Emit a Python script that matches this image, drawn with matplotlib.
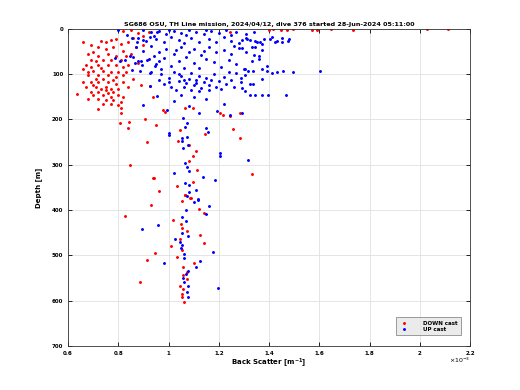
import numpy as np
import matplotlib
matplotlib.use('Agg')
import matplotlib.pyplot as plt
from matplotlib.ticker import FuncFormatter

# back scatter in units of 1e-3 m^-1, depth in m
down_pts = [
    (0.66, 30), (0.69, 35), (0.73, 26), (0.75, 28), (0.77, 25), (0.79, 22), (0.81, 33), (0.72, 40),
    (0.75, 44), (0.78, 40), (0.82, 48), (0.70, 52), (0.68, 55), (0.72, 60), (0.76, 55), (0.79, 60),
    (0.83, 60), (0.69, 68), (0.71, 72), (0.74, 68), (0.77, 68), (0.81, 68), (0.67, 80), (0.69, 84),
    (0.72, 80), (0.76, 80), (0.79, 80), (0.82, 84), (0.84, 80), (0.66, 88), (0.70, 92), (0.74, 92),
    (0.77, 96), (0.80, 96), (0.83, 96), (0.68, 102), (0.72, 102), (0.76, 102), (0.79, 106), (0.82, 102),
    (0.66, 117), (0.69, 117), (0.72, 117), (0.76, 117), (0.79, 121), (0.82, 117), (0.67, 128), (0.71, 128),
    (0.75, 128), (0.77, 132), (0.80, 132), (0.84, 128), (0.69, 139), (0.72, 139), (0.75, 136), (0.78, 139),
    (0.70, 146), (0.74, 146), (0.77, 150), (0.80, 146), (0.82, 150), (0.635, 143), (0.68, 154), (0.72, 154),
    (0.75, 157), (0.78, 157), (0.81, 161), (0.74, 165), (0.77, 165), (0.80, 168), (0.72, 178), (0.81, 175),
    (0.71, 110), (0.73, 86), (0.78, 112), (0.74, 110), (0.70, 124), (0.76, 142), (0.68, 95), (0.73, 133),
    (0.82, 5), (0.85, 3), (0.88, 10), (0.86, 20), (0.90, 15), (0.92, 8), (0.84, 30), (0.87, 40), (0.90, 35),
    (0.85, 55), (0.88, 75), (0.86, 110), (0.89, 125),
    (0.811, 185), (0.807, 208), (0.843, 205), (0.84, 218), (0.906, 199), (0.95, 212), (0.913, 250),
    (0.847, 300), (0.94, 330), (0.962, 357),
    (0.979, 180), (1.045, 224), (1.036, 247), (1.083, 256), (1.109, 269), (1.098, 280), (1.083, 291),
    (1.112, 311), (1.145, 232), (1.215, 190), (1.244, 193), (1.258, 221), (1.284, 241), (0.939, 330),
    (1.035, 348), (1.096, 339), (1.065, 366), (1.085, 374),
    (1.066, 367), (1.088, 374), (1.055, 381), (0.93, 389), (1.121, 397), (1.141, 406), (0.827, 413),
    (1.019, 422), (1.050, 431), (1.052, 439), (1.072, 447), (1.125, 456), (1.046, 464), (1.139, 472),
    (1.01, 479), (1.055, 488), (0.944, 494), (1.033, 503), (0.913, 510), (1.102, 517), (1.059, 526),
    (1.072, 536), (1.056, 543), (1.072, 552), (0.887, 559), (1.046, 567), (1.056, 575), (1.052, 585),
    (1.052, 593), (1.062, 602),
    (0.926, 127), (0.939, 151), (1.065, 174), (1.098, 174), (0.986, 183), (1.205, 186), (1.284, 186),
    (1.244, 6), (1.40, 2), (1.416, 1), (1.448, 3), (1.472, 2), (1.496, 1), (1.571, 2), (1.591, 3),
    (1.647, 1), (1.734, 2), (2.029, 1), (2.112, 1), (1.33, 320),
]

up_pts = [
    (0.90, 3), (0.93, 8), (0.96, 5), (0.99, 12), (1.02, 4), (1.05, 10), (1.08, 3), (1.11, 7), (1.14, 12),
    (1.17, 5), (1.20, 9), (1.23, 3), (1.27, 8), (1.31, 12), (1.34, 6), (0.94, 15), (1.00, 2), (1.07, 14),
    (1.15, 2), (1.25, 14),
    (0.88, 20), (0.91, 27), (0.95, 22), (0.98, 30), (1.01, 18), (1.04, 25), (1.06, 32), (1.09, 20),
    (1.12, 28), (1.16, 22), (1.19, 30), (1.22, 18), (1.25, 26), (1.28, 32), (1.31, 20), (1.35, 28),
    (1.38, 23), (1.41, 18), (1.45, 20), (1.48, 22), (1.43, 26),
    (0.87, 40), (0.90, 48), (0.93, 38), (0.96, 52), (0.99, 44), (1.02, 56), (1.05, 40), (1.08, 50),
    (1.10, 44), (1.13, 58), (1.16, 40), (1.19, 52), (1.22, 46), (1.25, 56), (1.28, 42), (1.31, 50),
    (1.34, 58), (1.26, 38), (1.14, 48), (1.03, 46),
    (0.86, 62), (0.89, 70), (0.92, 66), (0.95, 78), (0.98, 64), (1.01, 82), (1.04, 70), (1.07, 62),
    (1.10, 76), (1.12, 86), (1.15, 66), (1.18, 74), (1.21, 84), (1.24, 68), (1.27, 78), (1.30, 88),
    (1.33, 72), (1.36, 66), (1.39, 82), (0.97, 88), (1.06, 86),
    (0.93, 95), (0.97, 100), (1.00, 108), (1.02, 96), (1.04, 115), (1.05, 104), (1.07, 120), (1.08, 110),
    (1.09, 98), (1.10, 125), (1.11, 114), (1.12, 105), (1.13, 130), (1.14, 118), (1.15, 108), (1.16, 124),
    (1.17, 112), (1.18, 100), (1.19, 128), (1.20, 116), (1.22, 106), (1.23, 122), (1.25, 112), (1.27, 98),
    (1.29, 118), (0.98, 122), (1.01, 128), (1.03, 134), (1.06, 128), (1.09, 136), (1.12, 138),
    (1.16, 134), (1.21, 132), (1.26, 128), (1.00, 118), (1.06, 112), (1.11, 120), (1.04, 100),
    (0.96, 112), (1.24, 95),
    (1.05, 145), (1.10, 150), (1.02, 160), (1.15, 155), (1.08, 170), (1.12, 185), (1.22, 165),
    (0.992, 180), (1.059, 197), (1.072, 208), (1.065, 216), (1.0, 230), (1.003, 234), (1.052, 241),
    (1.055, 247), (1.072, 238), (1.149, 219), (1.158, 227), (1.079, 256), (1.059, 264), (1.205, 273),
    (1.205, 280), (1.065, 297), (1.072, 304), (1.083, 313), (1.023, 319), (1.136, 326), (1.185, 333),
    (1.065, 341), (1.083, 344), (1.109, 355), (1.083, 361), (1.118, 376), (1.315, 289), (1.291, 186),
    (1.244, 190), (1.191, 182),
    (1.075, 369), (1.116, 378), (1.103, 383), (1.159, 391), (1.070, 400), (1.149, 409), (1.055, 416),
    (1.070, 424), (0.956, 432), (0.896, 441), (1.055, 450), (1.079, 457), (1.025, 464), (1.046, 470),
    (1.055, 477), (1.050, 484), (1.178, 492), (1.062, 498), (1.062, 505), (1.125, 512), (0.982, 517),
    (1.108, 525), (1.079, 534), (1.070, 541), (1.059, 549), (1.062, 558), (1.076, 567), (1.196, 573),
    (1.072, 582), (1.076, 591),
    (1.291, 24), (1.311, 22), (1.325, 25), (1.344, 26), (1.364, 28), (1.37, 33), (1.291, 43), (1.331, 41),
    (1.344, 41), (1.371, 46), (1.358, 61), (1.404, 22), (1.424, 29), (1.45, 28), (1.474, 27),
    (1.305, 88), (1.318, 93), (1.335, 93), (1.371, 88), (1.391, 93), (1.41, 98), (1.433, 96),
    (1.457, 92), (1.494, 96), (1.603, 93), (1.305, 102), (1.288, 109), (1.371, 110), (1.324, 122),
    (1.335, 121), (1.291, 131), (1.305, 138), (1.322, 147), (1.344, 147), (1.371, 147), (1.397, 147),
    (1.468, 147),
    (0.80, 2), (0.834, 13), (0.853, 21), (0.873, 28), (0.90, 24), (0.926, 19), (0.953, 6), (0.787, 65),
    (0.807, 72), (0.827, 68), (0.847, 61), (0.867, 76), (0.88, 72), (0.894, 79), (0.913, 68), (0.94, 61),
    (0.96, 72), (0.853, 91), (0.887, 94), (0.926, 98), (0.946, 83), (0.926, 127), (0.90, 168),
    (0.953, 149),
]

down_bs = np.array([p[0] for p in down_pts]) * 1e-3
down_depth = np.array([p[1] for p in down_pts])
up_bs = np.array([p[0] for p in up_pts]) * 1e-3
up_depth = np.array([p[1] for p in up_pts])

fig = plt.figure(figsize=(5.2, 3.9), dpi=100)
ax = fig.add_axes([0.131, 0.113, 0.773, 0.813])

ax.plot(down_bs, down_depth, '.', color='red', markersize=2.2, label='DOWN cast')
ax.plot(up_bs, up_depth, '.', color='blue', markersize=2.2, label='UP cast')

ax.set_xlim(0.6e-3, 2.2e-3)
ax.set_ylim(700, 0)
ax.set_xticks(np.arange(0.6e-3, 2.21e-3, 0.2e-3))
ax.set_yticks(np.arange(0, 701, 100))
ax.xaxis.set_major_formatter(FuncFormatter(lambda v, p: '%g' % round(v * 1e3, 2)))
ax.tick_params(direction='in', labelsize=4, length=3, width=0.6, top=True, right=True)
for lab in ax.get_xticklabels() + ax.get_yticklabels():
    lab.set_fontweight('bold')
ax.grid(True, color='#e0e0e0', linewidth=0.6)
ax.set_axisbelow(True)
for s in ax.spines.values():
    s.set_linewidth(0.6)
    s.set_color('#333333')

ax.set_xlabel('Back Scatter [m$^{\\mathbf{-1}}$]', fontsize=5, fontweight='bold', labelpad=1)
ax.set_ylabel('Depth [m]', fontsize=5, fontweight='bold', labelpad=7)
ax.set_title('SG686 OSU, TH Line mission, 2024/04/12, dive 376 started 28-Jun-2024 05:11:00',
             fontsize=4.6, fontweight='bold', pad=2)
ax.text(1.0, -0.03, '$\\times10^{-3}$', transform=ax.transAxes, fontsize=4.5,
        ha='right', va='top')

leg = ax.legend(loc='lower right', fontsize=4, frameon=True, fancybox=False,
                bbox_to_anchor=(0.985, 0.025), borderpad=0.6, labelspacing=0.2,
                handletextpad=2.8, handlelength=1.5, markerscale=1.0)
leg.get_frame().set_facecolor('#e6e6e6')
leg.get_frame().set_edgecolor('#555555')
leg.get_frame().set_linewidth(0.5)
for t in leg.get_texts():
    t.set_fontweight('bold')

fig.savefig('out.png', dpi=100)
